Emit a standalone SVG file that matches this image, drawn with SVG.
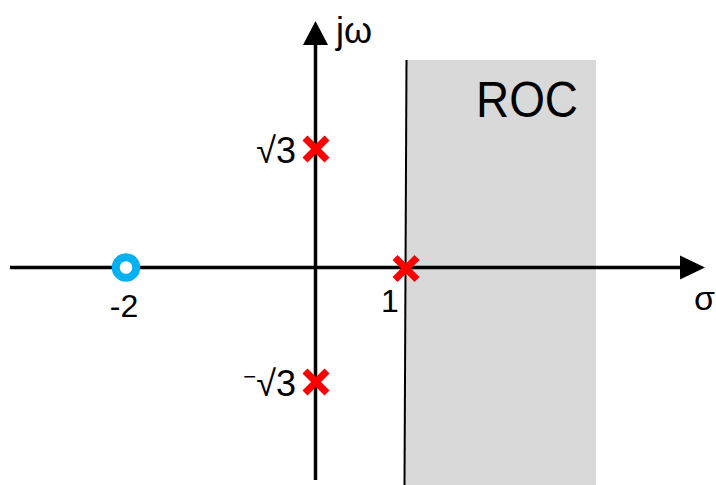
<svg xmlns="http://www.w3.org/2000/svg" width="716" height="485" viewBox="0 0 716 485">
<defs>
<style>
text{font-family:"Liberation Sans",Arial,sans-serif;fill:#000}
.axis{stroke:#000;stroke-width:3.5;fill:none}
</style>
<g id="xmark" stroke="#ff0000" stroke-width="7"><line x1="-11" y1="-11" x2="11" y2="11"/><line x1="-11" y1="11" x2="11" y2="-11"/></g>
</defs>
<rect width="716" height="485" fill="#fff"/>
<g id="roc">
<polygon points="406.5,60 596,60 596,485 404.5,485" fill="#d9d9d9"/>
<line x1="406.5" y1="60" x2="404.5" y2="485" stroke="#000" stroke-width="2"/>
<text x="476" y="117" font-size="50" textLength="102" lengthAdjust="spacingAndGlyphs" fill="#000">ROC</text>
</g>
<g id="connectors">
<line class="axis" x1="10" y1="267.5" x2="684" y2="267.5"/>
<polygon points="705,267.5 680,255.5 680,279.5" fill="#000"/>
<line class="axis" x1="315.5" y1="480" x2="315.5" y2="42"/>
<polygon points="315.5,21 303,45 328,45" fill="#000"/>
</g>
<g id="axis-labels">
<text x="336" y="43" font-size="36">jω</text>
<text x="694" y="310" font-size="34">σ</text>
</g>
<g id="zero-neg2">
<circle cx="126" cy="267.5" r="10.3" fill="#fff" stroke="#00b0f0" stroke-width="8"/>
<text x="124" y="317" font-size="32" text-anchor="middle">-2</text>
</g>
<g id="pole-sqrt3">
<use href="#xmark" x="316" y="149"/>
<text x="296" y="163" font-size="36" text-anchor="end">√3</text>
</g>
<g id="pole-1">
<use href="#xmark" x="406" y="268.5"/>
<text x="390" y="312" font-size="32" text-anchor="middle">1</text>
</g>
<g id="pole-neg-sqrt3">
<use href="#xmark" x="316" y="382"/>
<text x="296" y="396" font-size="36" text-anchor="end"><tspan font-size="22" dy="-12">−</tspan><tspan dy="12">√3</tspan></text>
</g>
</svg>
